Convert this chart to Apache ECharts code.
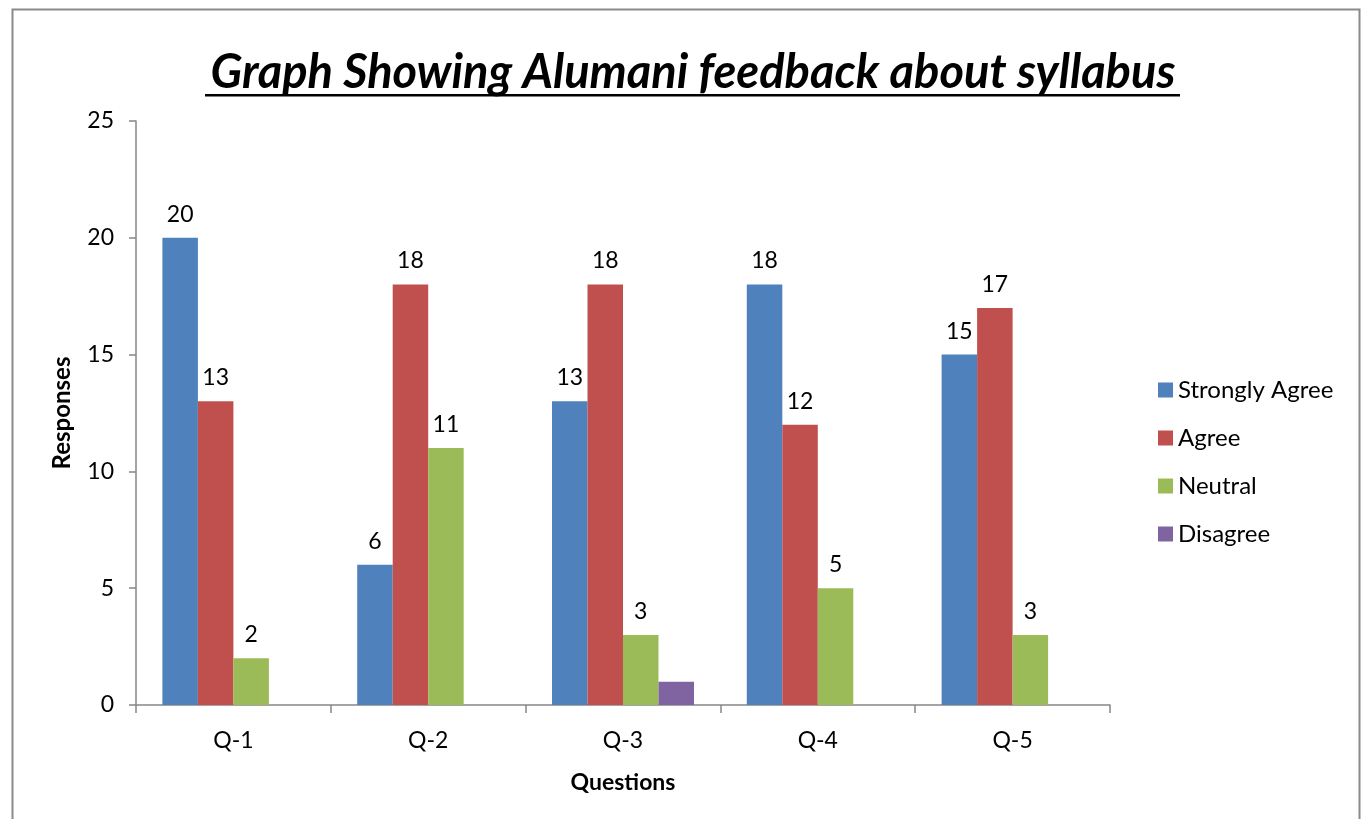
<!DOCTYPE html>
<html>
<head>
<meta charset="utf-8">
<script src="https://cdn.jsdelivr.net/npm/echarts@6/dist/echarts.min.js"></script>
<style>
  html, body { margin: 0; padding: 0; background: #fff; }
  #chart { width: 1369px; height: 819px; }
</style>
</head>
<body>
<div id="chart"></div>
<script>
// data
const questions = ['Q-1', 'Q-2', 'Q-3', 'Q-4', 'Q-5']
const stronglyAgree = [20, 6, 13, 18, 15]
const agree = [13, 18, 18, 12, 17]
const neutral = [2, 11, 3, 5, 3]
const disagree = [null, null, 1, null, null]
const yTicks = [0, 5, 10, 15, 20, 25]

const FONT = 'Lato, "Open Sans", sans-serif'
const colors = ['#4F81BD', '#C0504D', '#9BBB59', '#8064A2']

const makeSeries = (name, data, showLabel) => {
    return {
        name: name,
        type: 'bar',
        data: data,
        barWidth: 35.5,
        barGap: '0%',
        label: {
            show: showLabel,
            position: 'top',
            distance: 12,
            color: '#000',
            fontSize: 23,
            fontFamily: FONT
        }
    }
}

let chart = echarts.init(document.getElementById('chart'))
chart.setOption({
    animation: false,
    color: colors,
    title: {
        text: 'Graph Showing Alumani feedback about syllabus',
        left: 688,
        textAlign: 'center',
        top: 44,
        textStyle: {
            fontFamily: FONT,
            fontSize: 47,
            fontWeight: 'bold',
            fontStyle: 'italic',
            color: '#000'
        }
    },
    legend: {
        orient: 'vertical',
        left: 1153,
        top: 373,
        itemGap: 24,
        itemWidth: 15,
        itemHeight: 15,
        icon: 'rect',
        data: ['Strongly Agree', 'Agree', 'Neutral', 'Disagree'],
        textStyle: { fontFamily: FONT, fontSize: 24, color: '#000' }
    },
    grid: { left: 136, right: 259, top: 121, bottom: 114 },
    xAxis: {
        type: 'category',
        data: questions,
        name: 'Questions',
        nameLocation: 'middle',
        nameGap: 66,
        nameTextStyle: { fontFamily: FONT, fontSize: 23, fontWeight: 'bold', color: '#000' },
        axisLine: { lineStyle: { color: '#868686', width: 1.5 } },
        axisTick: { show: true, length: 8, lineStyle: { color: '#868686', width: 1.5 } },
        axisLabel: { fontFamily: FONT, fontSize: 23, color: '#000', margin: 24 }
    },
    yAxis: {
        type: 'value',
        min: yTicks[0],
        max: yTicks[yTicks.length - 1],
        interval: 5,
        name: 'Responses',
        nameLocation: 'middle',
        nameRotate: 90,
        nameGap: 62,
        nameTextStyle: { fontFamily: FONT, fontSize: 24, fontWeight: 'bold', color: '#000' },
        splitLine: { show: false },
        axisLine: { show: true, lineStyle: { color: '#868686', width: 1.5 } },
        axisTick: { show: true, length: 7, lineStyle: { color: '#868686', width: 1.5 } },
        axisLabel: { fontFamily: FONT, fontSize: 23, color: '#000', margin: 22 }
    },
    graphic: [
        {
            // chart frame
            type: 'rect',
            shape: { x: 12.5, y: 9.5, width: 1347, height: 830 },
            style: { fill: 'none', stroke: '#8a8a8a', lineWidth: 2 },
            silent: true
        },
        {
            // title underline
            type: 'rect',
            shape: { x: 205, y: 94, width: 975, height: 2.5 },
            style: { fill: '#000' },
            silent: true
        }
    ],
    series: [
        makeSeries('Strongly Agree', stronglyAgree, true),
        makeSeries('Agree', agree, true),
        makeSeries('Neutral', neutral, true),
        makeSeries('Disagree', disagree, false)
    ]
})
</script>
</body>
</html>
